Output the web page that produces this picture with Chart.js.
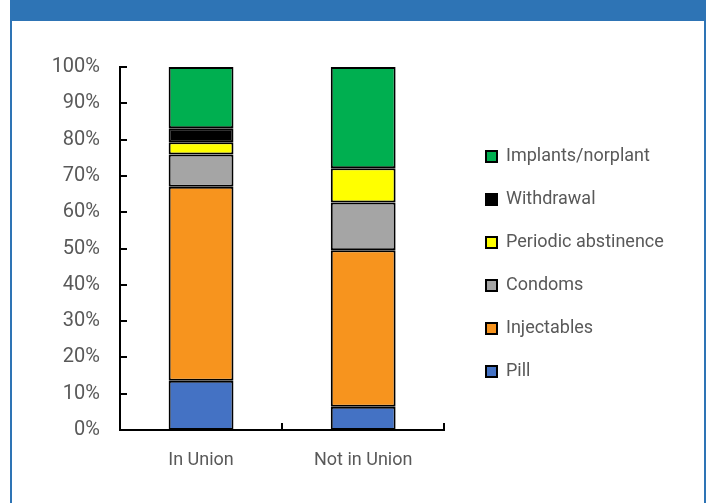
<!DOCTYPE html>
<html>
<head>
<meta charset="utf-8">
<script src="https://cdn.jsdelivr.net/npm/chart.js@4/dist/chart.umd.min.js"></script>
<style>
  html, body { margin: 0; padding: 0; background: #fff; }
  #wrap { position: relative; width: 712px; height: 503px; overflow: hidden; }
  #frame { position: absolute; left: 10px; top: 0; width: 692px; height: 503px;
           border-left: 2px solid #2E74B5; border-right: 2px solid #2E74B5; }
  #band { position: absolute; left: 0; top: 0; width: 100%; height: 21px; background: #2E74B5; }
  #box { position: absolute; left: 0; top: 0; width: 712px; height: 503px; }
</style>
</head>
<body>
<div id="wrap">
  <div id="frame"><div id="band"></div></div>
  <div id="box"><canvas id="methodChart"></canvas></div>
</div>
<script>
var groups = ["In Union", "Not in Union"];
var pill = [13.6, 6.4];
var injectables = [53.4, 43.1];
var condoms = [8.9, 13.2];
var periodic = [3.4, 9.4];
var withdrawal = [3.8, 0];
var implants = [16.9, 27.9];
var yTicks = [0, 10, 20, 30, 40, 50, 60, 70, 80, 90, 100];

var grey = "#595959";
var fontFam = "Roboto, 'Liberation Sans', sans-serif";

Chart.defaults.font.family = fontFam;
Chart.defaults.font.size = 18;
Chart.defaults.color = grey;

function ds(label, data, color) {
  return {
    label: label,
    data: data,
    backgroundColor: color,
    borderColor: "#000",
    borderWidth: 2,
    borderSkipped: false,
    barPercentage: 0.4,
    categoryPercentage: 1
  };
}

// legend placement + small inward tick marks like the original axes
var innerTicks = {
  id: "innerTicks",
  afterLayout: function(chart) {
    var lg = chart.legend;
    lg.left = 461;
    lg.right = 712;
    lg.width = 251;
    lg.top = 25;
    lg.bottom = 503;
    lg.height = 478;
  },
  afterDatasetsDraw: function(chart) {
    var ctx = chart.ctx;
    var x = chart.scales.x, y = chart.scales.y;
    var area = chart.chartArea;
    ctx.save();
    ctx.strokeStyle = "#000";
    ctx.lineWidth = 2;
    ctx.beginPath();
    yTicks.forEach(function(v) {
      var py = Math.round(y.getPixelForValue(v));
      ctx.moveTo(area.left, py);
      ctx.lineTo(area.left + 7, py);
    });
    var half = (x.getPixelForValue(1) - x.getPixelForValue(0)) / 2;
    for (var i = 0; i <= groups.length; i++) {
      var px = Math.round(x.getPixelForValue(0) - half + i * 2 * half);
      ctx.moveTo(px, area.bottom);
      ctx.lineTo(px, area.bottom - 7);
    }
    ctx.stroke();
    ctx.restore();
  }
};

var chart = new Chart(document.getElementById("methodChart"), {
  type: "bar",
  data: {
    labels: groups,
    datasets: [
      ds("Pill", pill, "#4472C4"),
      ds("Injectables", injectables, "#F7941E"),
      ds("Condoms", condoms, "#A5A5A5"),
      ds("Periodic abstinence", periodic, "#FFFF00"),
      ds("Withdrawal", withdrawal, "#000000"),
      ds("Implants/norplant", implants, "#00AF50")
    ]
  },
  options: {
    responsive: true,
    maintainAspectRatio: false,
    animation: false,
    layout: { padding: { left: 40, right: 133, top: 67, bottom: 0 } },
    plugins: {
      legend: {
        position: "right",
        reverse: true,
        labels: {
          boxWidth: 11,
          boxHeight: 11,
          padding: 25,
          color: grey,
          font: { size: 18, family: fontFam }
        }
      },
      tooltip: { enabled: false }
    },
    scales: {
      x: {
        stacked: true,
        afterFit: function(s) { s.height = 73; },
        grid: { display: false },
        border: { display: true, color: "#000", width: 2 },
        ticks: { padding: 12, color: grey, font: { size: 18 } }
      },
      y: {
        stacked: true,
        min: 0,
        max: 100,
        afterFit: function(s) { s.width = 80; },
        grid: { display: false },
        border: { display: true, color: "#000", width: 2 },
        ticks: {
          stepSize: 10,
          padding: 12,
          color: grey,
          font: { size: 20 },
          callback: function(v) { return v + "%"; }
        }
      }
    }
  },
  plugins: [innerTicks]
});
</script>
</body>
</html>
